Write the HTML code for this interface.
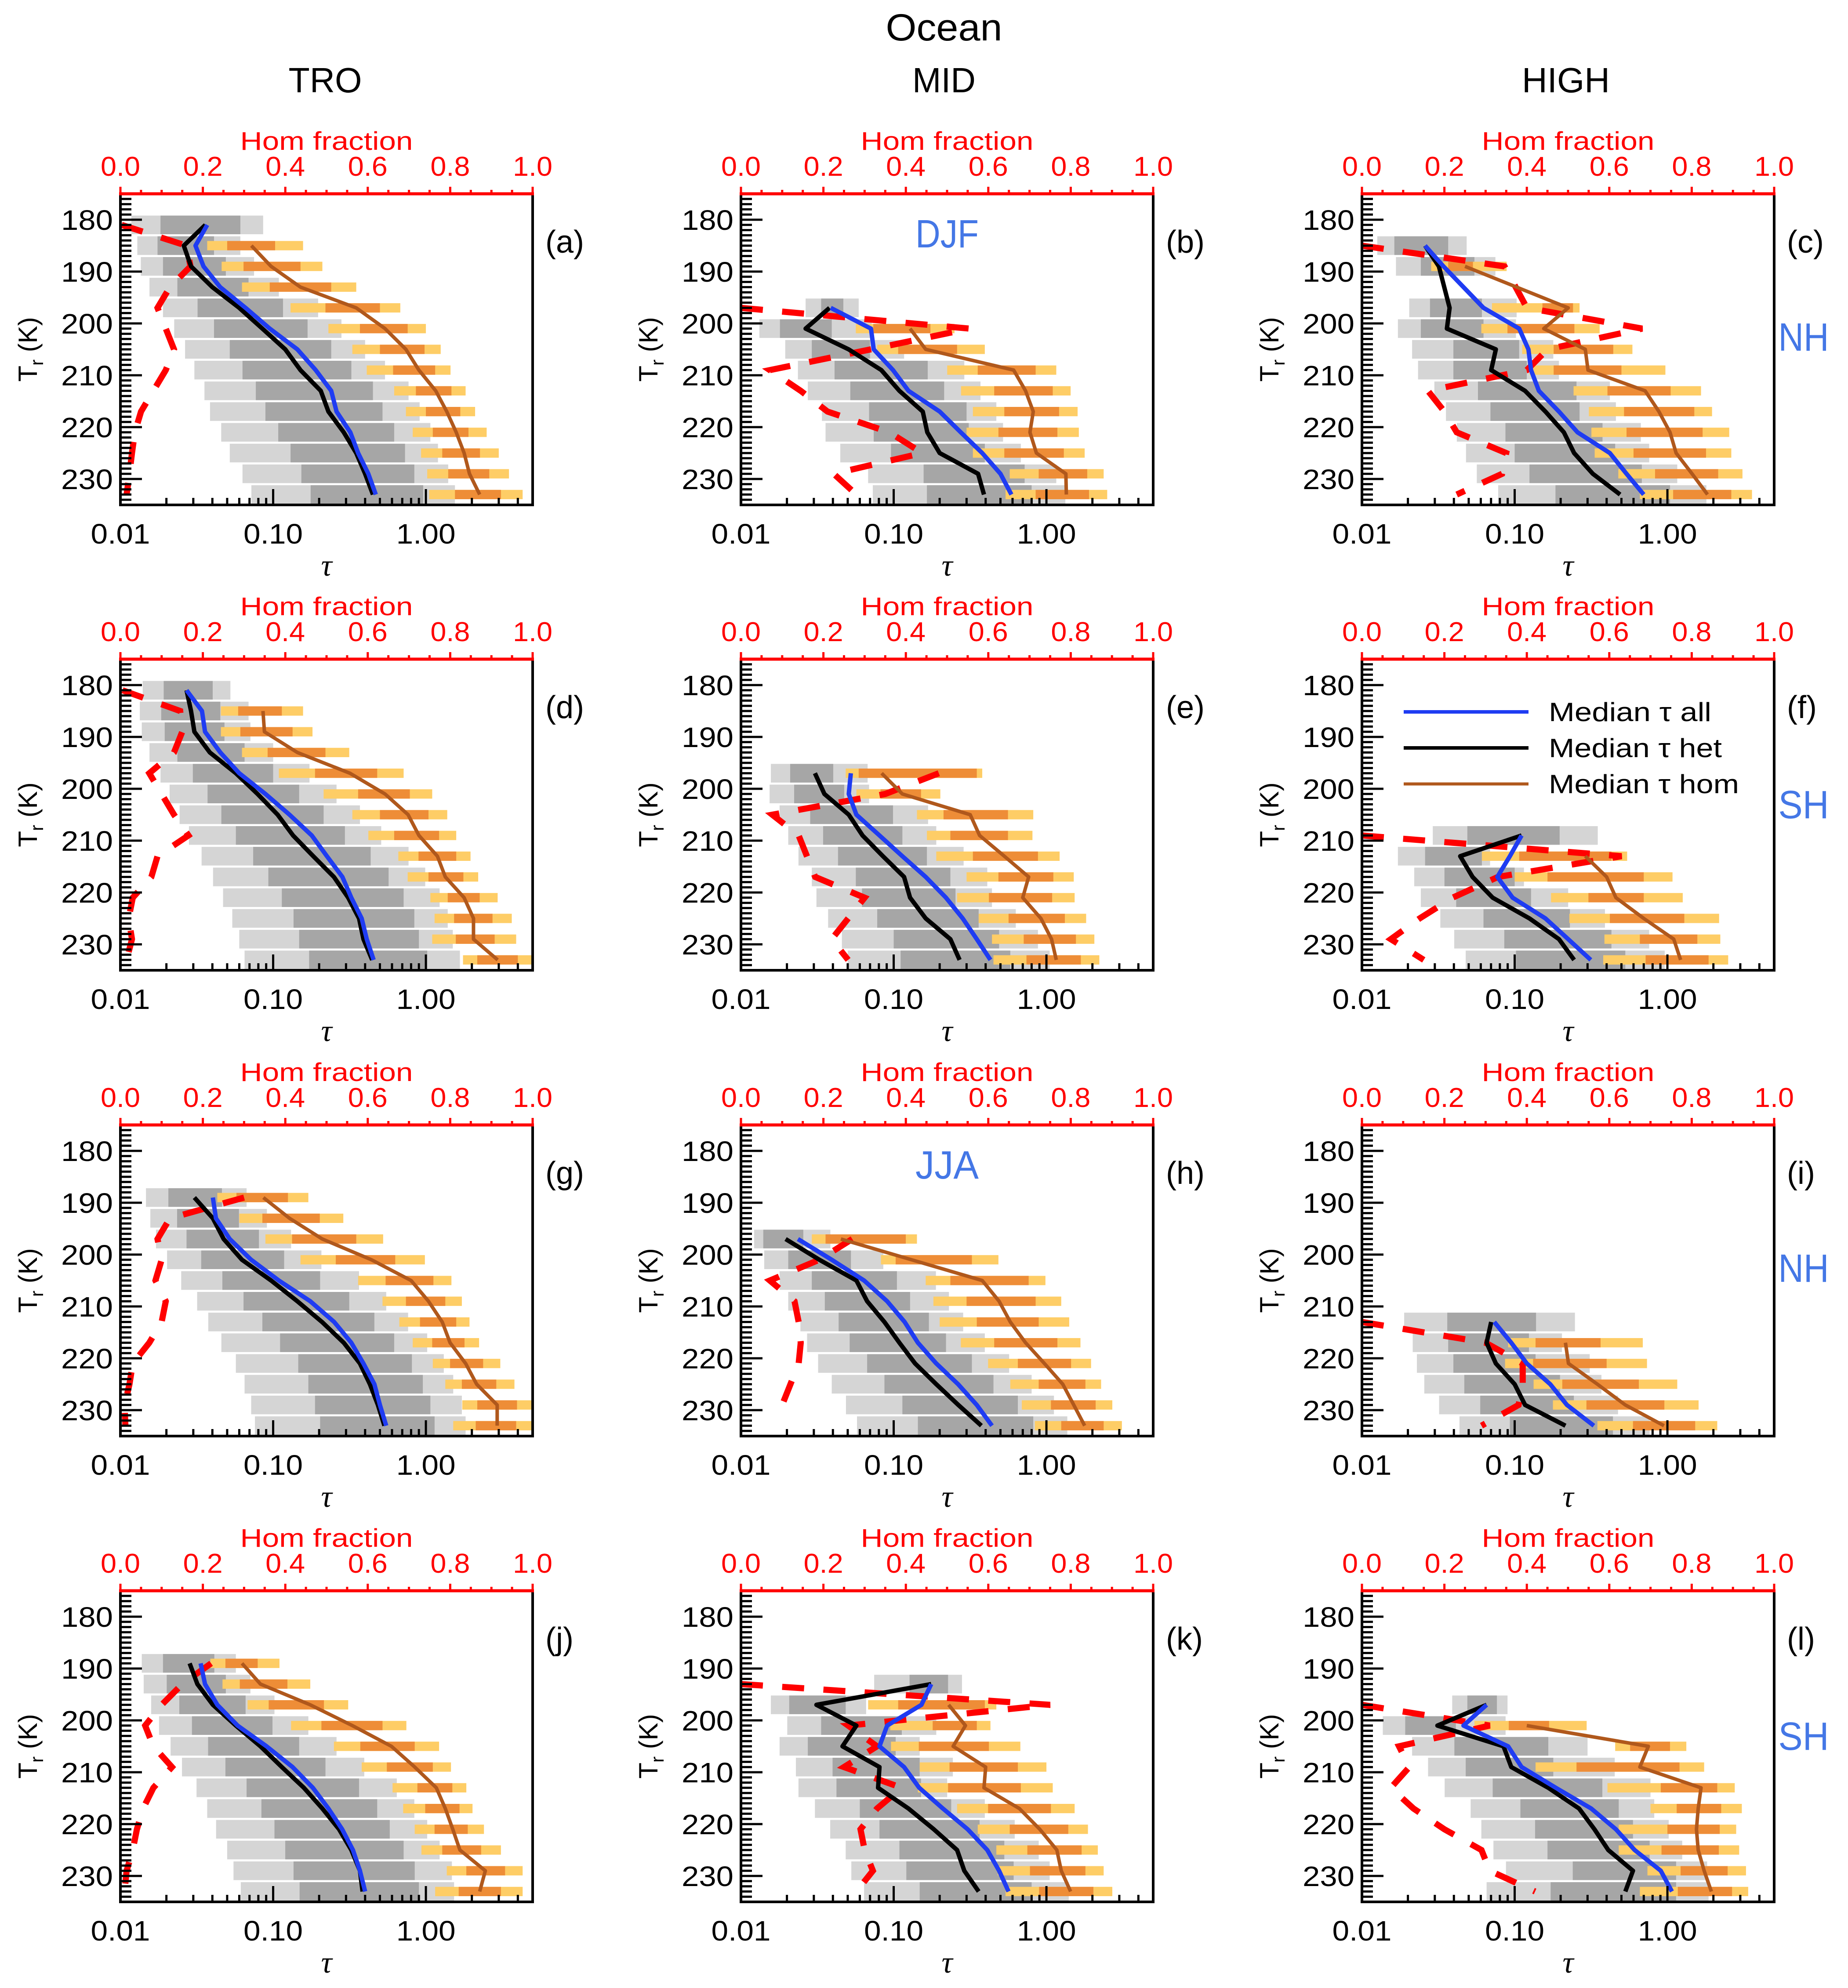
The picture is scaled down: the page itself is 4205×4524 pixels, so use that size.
<!DOCTYPE html>
<html><head><meta charset="utf-8"><style>
html,body{margin:0;padding:0;background:#fff;}
svg{display:block;font-family:"Liberation Sans",sans-serif;}
</style></head><body>
<svg id="fig" xmlns="http://www.w3.org/2000/svg" width="4205" height="4524" viewBox="0 0 4205 4524">
<rect x="0" y="0" width="4205" height="4524" fill="#fff"/>
<text x="2148" y="92" font-size="86" text-anchor="middle" textLength="265" lengthAdjust="spacingAndGlyphs">Ocean</text>
<text x="740" y="210" font-size="80" text-anchor="middle" textLength="167" lengthAdjust="spacingAndGlyphs">TRO</text>
<text x="2148" y="210" font-size="80" text-anchor="middle" textLength="144" lengthAdjust="spacingAndGlyphs">MID</text>
<text x="3563" y="210" font-size="80" text-anchor="middle" textLength="200" lengthAdjust="spacingAndGlyphs">HIGH</text>
</svg>
<script>
// ---------- data (tau values, temperature bins, hom fraction) ----------
const binsA = [181,185,189,193,197,201,205,209,213,217,221,225,229,233];
const grayA = [[.0118,.0183,.061,.086],[.0129,.0175,.041,.061],[.0136,.019,.049,.075],[.0155,.0236,.069,.109],[.019,.032,.116,.197],[.0225,.041,.168,.28],[.0265,.052,.24,.40],[.0305,.063,.325,.54],[.0355,.077,.45,.77],[.0386,.089,.52,.91],[.0457,.108,.62,1.07],[.052,.13,.73,1.2],[.063,.153,.84,1.4],[.072,.176,.96,1.55]];
const orangeA = [null,[.037,.05,.103,.157],[.046,.064,.151,.21],[.0625,.095,.24,.35],[.13,.22,.50,.68],[.23,.37,.76,1.0],[.33,.50,.98,1.25],[.41,.61,1.15,1.45],[.62,.86,1.47,1.82],[.74,1.0,1.68,2.1],[.82,1.11,1.9,2.5],[.93,1.28,2.26,3.0],[1.02,1.4,2.6,3.5],[1.05,1.55,3.1,4.3]];
const allA = [.037,.031,.035,.045,.066,.095,.144,.19,.24,.26,.32,.36,.42,.47];
const hetA = [.036,.026,.029,.040,.060,.085,.12,.151,.205,.23,.29,.35,.40,.45];
const homA = [null,.072,.097,.151,.35,.54,.74,.90,1.16,1.37,1.58,1.78,1.93,2.25];
const fracA = [.003,.16,.17,.12,.09,.11,.13,.11,.08,.05,.035,.028,.022,.015];

const binsB = [197,201,205,209,213,217,221,225,229,233];
const grayB = [[.0265,.0335,.0468,.059],[.0132,.018,.0393,.0718],[.0195,.0291,.070,.117],[.0236,.041,.167,.29],[.0274,.052,.214,.37],[.0339,.069,.30,.47],[.0358,.074,.31,.52],[.0447,.096,.395,.68],[.068,.157,.72,1.16],[.073,.165,.80,1.33]];
const orangeB = [null,[.0565,.0735,.174,.25],[.078,.107,.26,.395],[.224,.355,.85,1.16],[.276,.455,1.10,1.44],[.33,.53,1.21,1.6],[.30,.485,1.18,1.63],[.33,.53,1.3,1.78],[.575,.89,1.85,2.37],[.54,.85,1.9,2.5]];
const allB = [.0387,.071,.074,.099,.125,.20,.275,.38,.50,.59];
const hetB = [.038,.0265,.0507,.083,.109,.155,.166,.20,.357,.39];
const homB = [null,.128,.162,.61,.73,.82,.78,.86,1.34,1.35];
const fracB = [0.0,.555,.315,.07,.145,.21,.36,.44,.225,.28];

const binsC = [185,189,193,197,201,205,209,213,217,221,225,229,233];
const grayC = [[.0126,.0163,.0367,.0485],[.0167,.0243,.0545,.0748],null,[.0204,.0279,.061,.103],[.0172,.0243,.0625,.102],[.0213,.0397,.107,.179],[.0233,.0397,.12,.195],[.0298,.0575,.254,.42],[.0355,.0694,.266,.46],[.0418,.087,.376,.67],[.048,.10,.455,.76],[.0565,.125,.68,1.16],[.078,.185,1.04,1.8]];
const orangeC = [null,[.0284,.0367,.0533,.0886],null,[.071,.152,.241,.266],[.0605,.0897,.246,.36],[.112,.18,.442,.59],[.125,.18,.50,.97],[.243,.405,1.05,1.66],[.306,.52,1.5,1.96],[.318,.54,1.7,2.54],[.334,.60,1.79,2.62],[.477,.83,2.15,3.1],[.66,1.09,2.62,3.58]];
const allC = [.0259,.0342,null,.0625,.107,.123,.128,.144,.195,.258,.42,.54,.70];
const hetC = [.0259,.0319,null,.0375,.036,.0753,.0702,.117,.159,.21,.245,.325,.49];
const homC = [null,.0473,null,.224,.155,.29,.302,.715,.88,1.04,1.14,1.45,1.83];
const fracC = [0,.346,null,.40,.68,.45,.40,.16,.20,.23,.35,.34,.23];

const binsD = [181,185,189,193,197,201,205,209,213,217,221,225,229,233];
const grayD = [[.014,.0192,.0402,.0525],[.0134,.0185,.0451,.069],[.0138,.0195,.048,.071],[.0155,.0236,.065,.10],[.0183,.0298,.10,.173],[.021,.0372,.148,.26],[.0244,.0458,.214,.37],[.0281,.057,.295,.51],[.034,.074,.435,.77],[.0404,.093,.57,.99],[.047,.114,.715,1.23],[.054,.136,.84,1.39],[.06,.148,.90,1.5],[.065,.172,1.02,1.67]];
const orangeD = [null,[.0455,.059,.114,.157],[.0455,.061,.134,.181],[.0625,.092,.22,.315],[.109,.188,.48,.715],[.214,.36,.785,1.10],[.33,.50,1.04,1.38],[.42,.62,1.22,1.58],[.66,.895,1.58,1.96],[.76,1.04,1.76,2.2],[1.07,1.39,2.25,2.95],[1.14,1.53,2.73,3.65],[1.10,1.57,2.82,3.9],[1.75,2.17,4.0,5.0]];
const allD = [.0271,.0342,.0358,.0451,.060,.089,.128,.179,.225,.284,.325,.38,.41,.455];
const hetD = [.0271,.029,.0305,.0385,.057,.079,.107,.135,.183,.25,.31,.365,.39,.445];
const homD = [null,.0858,.0877,.144,.318,.54,.765,.90,1.19,1.34,1.78,2.05,2.05,2.95];
const fracD = [.005,.145,.15,.13,.07,.10,.13,.165,.09,.075,.03,.02,.028,.015];

const binsE = [197,201,205,209,213,217,221,225,229,233];
const grayE = [[.0157,.021,.0402,.0675],[.0154,.0223,.0474,.069],[.0179,.0284,.099,.168],[.0204,.0345,.114,.19],[.0238,.0432,.165,.287],[.0291,.0565,.235,.41],[.0312,.062,.254,.44],[.0372,.078,.36,.63],[.0458,.10,.49,.88],[.050,.111,.58,1.05]];
const orangeE = [[.0485,.059,.35,.38],[.057,.082,.151,.202],[.142,.212,.56,.82],[.165,.235,.56,.81],[.19,.33,.88,1.22],[.30,.485,1.11,1.51],[.26,.42,1.09,1.53],[.36,.565,1.32,1.82],[.44,.71,1.56,2.06],[.45,.74,1.68,2.22]];
const allE = [.0524,.0508,.057,.0807,.114,.162,.22,.283,.35,.43];
const hetE = [.0305,.0352,.0508,.0625,.085,.117,.128,.162,.235,.27];
const homE = [.0834,.114,.317,.365,.53,.765,.70,.92,1.08,1.16];
const fracE = [.48,.35,.076,.14,.16,.18,.30,.26,.22,.26];

const binsF = [209,213,217,221,225,229,233];
const grayF = [[.0291,.049,.197,.35],[.0172,.0259,.061,.069],[.022,.0347,.10,.115],[.0243,.0414,.128,.224],[.0326,.0625,.23,.39],[.0402,.0855,.43,.76],[.0478,.102,.53,.96]];
const orangeF = [null,[.061,.107,.43,.545],[.10,.164,.70,1.08],[.173,.304,.70,1.26],[.228,.42,1.29,2.18],[.387,.66,1.57,2.22],[.38,.72,1.86,2.5]];
const allF = [.111,.093,.077,.097,.159,.224,.315];
const hetF = [.111,.044,.053,.0718,.125,.195,.245];
const homF = [null,.29,.40,.46,.70,1.10,1.22];
const fracF = [0,.63,.33,.22,.14,.07,.15];

const binsG = [189,193,197,201,205,209,213,217,221,225,229,233];
const grayG = [[.0147,.0206,.0462,.067],[.0157,.0235,.0597,.091],[.0171,.0271,.0807,.131],[.0202,.0338,.118,.207],[.025,.0465,.203,.365],[.0318,.064,.315,.55],[.0376,.085,.46,.765],[.0458,.111,.62,1.02],[.057,.146,.81,1.31],[.065,.17,.955,1.51],[.0718,.188,1.07,1.72],[.076,.203,1.14,1.82]];
const orangeG = [[.0431,.0575,.125,.17],[.06,.085,.202,.288],[.089,.133,.35,.525],[.151,.257,.63,.985],[.36,.545,1.12,1.47],[.52,.74,1.34,1.72],[.67,.915,1.58,1.93],[.82,1.10,1.79,2.23],[1.11,1.44,2.37,3.07],[1.34,1.72,2.89,3.8],[1.73,2.17,3.95,5.0],[1.51,2.12,3.9,5.0]];
const allG = [.0403,.0422,.052,.0718,.109,.175,.251,.325,.39,.46,.50,.55];
const hetG = [.0305,.0403,.0474,.0625,.097,.144,.209,.29,.37,.43,.485,.535];
const homG = [.0863,.128,.21,.44,.80,1.04,1.28,1.44,1.82,2.15,2.93,2.93];
const fracG = [.30,.12,.09,.10,.085,.11,.10,.07,.03,.022,.01,.012];

const binsH = [197,201,205,209,213,217,221,225,229,233];
const grayH = [[.0122,.014,.0256,.0385],[.0142,.0204,.0525,.0855],[.0179,.0291,.105,.189],[.0204,.0354,.128,.23],[.0245,.0436,.17,.285],[.0271,.0515,.22,.395],[.032,.067,.325,.57],[.0393,.087,.45,.80],[.0487,.114,.65,1.12],[.0575,.144,.82,1.37]];
const orangeH = [[.0291,.0358,.12,.142],[.0825,.103,.325,.485],[.162,.235,.765,.985],[.182,.30,.85,1.25],[.20,.35,.89,1.41],[.275,.455,1.18,1.67],[.415,.65,1.45,1.96],[.58,.89,1.8,2.28],[.69,1.07,2.1,2.7],[.84,1.25,2.37,3.12]];
const allH = [.0236,.0393,.064,.0906,.118,.144,.19,.264,.35,.44];
const hetH = [.0196,.0326,.057,.067,.087,.109,.138,.19,.265,.375];
const homH = [.0451,.131,.38,.49,.58,.73,.97,1.28,1.51,1.78];
const fracH = [.27,.19,.07,.13,.14,.145,.14,.12,.10,null];

const binsI = [213,217,221,225,229,233];
const grayI = [[.0189,.0362,.138,.248],[.0215,.0367,.124,.204],[.0229,.0397,.137,.31],[.0256,.0468,.198,.37],[.032,.0595,.244,.475],[.0435,.093,.44,.765]];
const orangeI = [null,[.0906,.137,.365,.69],[.0865,.132,.40,.735],[.133,.205,.65,1.16],[.178,.295,.955,1.6],[.348,.595,1.52,2.12]];
const allI = [.0735,.095,.12,.171,.22,.33];
const hetI = [.0702,.0655,.0753,.10,.117,.215];
const homI = [null,.215,.225,.348,.53,.95];
const fracI = [0,.30,.39,.39,.38,.29];

const binsJ = [189,193,197,201,205,209,213,217,221,225,229,233];
const grayJ = [[.0138,.019,.0412,.057],[.0142,.0201,.049,.071],[.0159,.0243,.066,.102],[.0179,.0294,.099,.17],[.0213,.0375,.148,.26],[.0253,.0487,.22,.395],[.0315,.067,.365,.645],[.037,.0838,.48,.84],[.0423,.102,.58,1.02],[.050,.12,.715,1.23],[.055,.136,.845,1.48],[.0614,.149,.90,1.53]];
const orangeJ = [[.0388,.0487,.0792,.11],[.0466,.0605,.124,.175],[.068,.0935,.215,.31],[.131,.207,.52,.745],[.25,.372,.845,1.22],[.38,.555,1.11,1.46],[.605,.88,1.49,1.84],[.71,.99,1.66,2.02],[.845,1.14,1.88,2.4],[.935,1.28,2.3,3.1],[1.37,1.84,3.3,4.3],[1.15,1.64,3.1,4.3]];
const allJ = [.0335,.0358,.0431,.0585,.0906,.134,.182,.23,.283,.333,.37,.40];
const hetJ = [.0284,.0319,.0403,.057,.0826,.114,.159,.21,.27,.325,.37,.385];
const homJ = [.0625,.0826,.175,.33,.595,.845,1.17,1.34,1.5,1.67,2.45,2.25];
const fracJ = [.22,.15,.10,.06,.08,.125,.08,.055,.04,.03,.015,.01];

const binsK = [193,197,201,205,209,213,217,221,225,229,233];
const grayK = [[.0745,.127,.227,.28],[.0157,.0207,.0485,.066],[.0201,.0335,.113,.19],[.0179,.0274,.103,.148],[.0229,.0398,.148,.244],[.0238,.0422,.151,.224],[.0305,.060,.238,.395],[.0384,.0807,.365,.62],[.0485,.109,.53,.89],[.0528,.121,.61,1.05],[.064,.148,.80,1.4]];
const orangeK = [null,[.068,.107,.395,.47],[.095,.18,.35,.43],[.096,.146,.42,.675],[.148,.232,.65,1.0],[.144,.227,.68,1.1],[.26,.415,1.07,1.53],[.355,.575,1.39,1.87],[.47,.75,1.7,2.17],[.48,.78,1.8,2.37],[.54,.895,2.03,2.7]];
const allK = [.176,.152,.0906,.0807,.117,.147,.21,.305,.41,.49,.565];
const hetK = [.176,.0312,.057,.0462,.0807,.079,.125,.183,.26,.29,.36];
const homK = [null,.229,.295,.245,.40,.39,.665,.905,1.17,1.25,1.44];
const fracK = [0,.75,.26,.33,.25,.39,.33,.29,.30,.32,.28];

const binsL = [197,201,205,209,213,217,221,225,229,233];
const grayL = [[.039,.049,.0765,.0898],[.0137,.0192,.0412,.0872],[.0213,.0403,.166,.30],[.0271,.0478,.179,.452],[.0348,.0718,.375,.775],[.0515,.109,.48,.82],[.0605,.136,.595,1.02],[.0726,.164,.765,1.25],[.0877,.24,1.14,1.82],[.0655,.172,1.14,1.86]];
const orangeL = [null,[.0545,.0915,.168,.296],[.455,.57,1.04,1.33],[.137,.254,1.2,1.74],[.405,.905,2.12,2.76],[.775,1.15,2.25,3.07],[.48,1.0,2.2,2.82],[.48,.915,2.17,2.95],[.74,1.22,2.48,3.27],[.66,1.17,2.65,3.38]];
const allL = [.0655,.0462,.0906,.111,.186,.317,.46,.61,.905,1.07];
const hetL = [.0655,.0312,.0845,.095,.166,.264,.333,.41,.595,.53];
const homL = [null,.12,.75,.66,1.66,1.59,1.55,1.59,1.74,1.94];
const fracL = [0,.31,.09,.115,.07,.125,.20,.29,.31,.42];

const yTicks = [180,190,200,210,220,230];
const xTickLabels = ["0.01","0.10","1.00"];
const xTickValues = [0.01,0.1,1];
const fracTicks = [0,0.2,0.4,0.6,0.8,1.0];
const fracTickLabels = ["0.0","0.2","0.4","0.6","0.8","1.0"];

const panels = [
 {id:'a',col:0,row:0,bins:binsA,gray:grayA,orange:orangeA,all:allA,het:hetA,hom:homA,frac:fracA},
 {id:'b',col:1,row:0,bins:binsB,gray:grayB,orange:orangeB,all:allB,het:hetB,hom:homB,frac:fracB},
 {id:'c',col:2,row:0,bins:binsC,gray:grayC,orange:orangeC,all:allC,het:hetC,hom:homC,frac:fracC},
 {id:'d',col:0,row:1,bins:binsD,gray:grayD,orange:orangeD,all:allD,het:hetD,hom:homD,frac:fracD},
 {id:'e',col:1,row:1,bins:binsE,gray:grayE,orange:orangeE,all:allE,het:hetE,hom:homE,frac:fracE},
 {id:'f',col:2,row:1,bins:binsF,gray:grayF,orange:orangeF,all:allF,het:hetF,hom:homF,frac:fracF},
 {id:'g',col:0,row:2,bins:binsG,gray:grayG,orange:orangeG,all:allG,het:hetG,hom:homG,frac:fracG},
 {id:'h',col:1,row:2,bins:binsH,gray:grayH,orange:orangeH,all:allH,het:hetH,hom:homH,frac:fracH},
 {id:'i',col:2,row:2,bins:binsI,gray:grayI,orange:orangeI,all:allI,het:hetI,hom:homI,frac:fracI},
 {id:'j',col:0,row:3,bins:binsJ,gray:grayJ,orange:orangeJ,all:allJ,het:hetJ,hom:homJ,frac:fracJ},
 {id:'k',col:1,row:3,bins:binsK,gray:grayK,orange:orangeK,all:allK,het:hetK,hom:homK,frac:fracK},
 {id:'l',col:2,row:3,bins:binsL,gray:grayL,orange:orangeL,all:allL,het:hetL,hom:homL,frac:fracL}
];

// ---------- layout ----------
const NS = "http://www.w3.org/2000/svg";
const svg = document.getElementById('fig');
const PW = 938, PH = 708;
const LEFTS = [274,1686,3099], TOPS = [441,1500,2560,3620];
const TMIN = 175, TMAX = 235, LOGMIN = -2, LOGMAX = Math.log10(5);

function mk(tag, attrs, parent){
  const el = document.createElementNS(NS, tag);
  for (const k in attrs) el.setAttribute(k, attrs[k]);
  (parent || svg).appendChild(el);
  return el;
}

function drawPanel(p){
  const L = LEFTS[p.col], T = TOPS[p.row];
  const xs = v => L + (Math.log10(v) - LOGMIN) / (LOGMAX - LOGMIN) * PW;
  const ys = t => T + (t - TMIN) / (TMAX - TMIN) * PH;
  const fx = f => L + f * PW;
  const g = mk('g', {});
  
  
  const clipId = 'clip' + p.id;
  const cp = mk('clipPath', {id: clipId}, g);
  mk('rect', {x: L, y: T, width: PW, height: PH}, cp);
  const plot = mk('g', {'clip-path': 'url(#' + clipId + ')'}, g);
  
  

  const gh = 3.6 / 2, oh = 1.8 / 2;
  p.bins.forEach((t, i) => {
    const b = p.gray[i];
    if (b) {
      const r1 = mk('rect', {x: xs(b[0]), y: ys(t - gh), width: xs(b[3]) - xs(b[0]), height: ys(t + gh) - ys(t - gh), fill: '#d5d5d5'}, plot);
      
      
      const r2 = mk('rect', {x: xs(b[1]), y: ys(t - gh), width: xs(b[2]) - xs(b[1]), height: ys(t + gh) - ys(t - gh), fill: '#a6a6a6'}, plot);
      
      
    }
  });
  p.bins.forEach((t, i) => {
    const b = p.orange[i];
    if (b) {
      const r1 = mk('rect', {x: xs(b[0]), y: ys(t - oh), width: xs(b[3]) - xs(b[0]), height: ys(t + oh) - ys(t - oh), fill: '#fecd66'}, plot);
      
      
      const r2 = mk('rect', {x: xs(b[1]), y: ys(t - oh), width: xs(b[2]) - xs(b[1]), height: ys(t + oh) - ys(t - oh), fill: '#ee8d37'}, plot);
      
      
    }
  });
  function pts(arr, fn){
    const o = [];
    p.bins.forEach((t, i) => { if (arr[i] !== null && arr[i] !== undefined) o.push(fn(arr[i]).toFixed(1) + ',' + ys(t).toFixed(1)); });
    return o.join(' ');
  }
  const red = mk('polyline', {points: pts(p.frac, fx), fill: 'none', stroke: '#ff0000', 'stroke-width': 14, 'stroke-dasharray': '50 44'}, plot);
  
  
  const blk = mk('polyline', {points: pts(p.het, xs), fill: 'none', stroke: '#000', 'stroke-width': 10, 'stroke-linejoin': 'round'}, plot);
  
  
  const blu = mk('polyline', {points: pts(p.all, xs), fill: 'none', stroke: '#1f3cf2', 'stroke-width': 10, 'stroke-linejoin': 'round'}, plot);
  
  
  const brn = mk('polyline', {points: pts(p.hom, xs), fill: 'none', stroke: '#b0581c', 'stroke-width': 8, 'stroke-linejoin': 'round'}, plot);
  
  

  // axes
  const ax = mk('path', {d: `M${L},${T} V${T+PH} H${L+PW} V${T}`, fill: 'none', stroke: '#000', 'stroke-width': 6}, g);
  
  
  const top = mk('line', {x1: L - 3, y1: T, x2: L + PW + 3, y2: T, stroke: '#ff0000', 'stroke-width': 7}, g);
  
  
  for (let k = 0; k <= 20; k++) {
    const f = k / 20, major = (k % 4 === 0);
    const tk = mk('line', {x1: fx(f), y1: T, x2: fx(f), y2: T - (major ? 16 : 9), stroke: '#ff0000', 'stroke-width': 5}, g);
    
    
  }
  fracTicks.forEach((f, i) => {
    const tx = mk('text', {x: fx(f), y: T - 41, 'font-size': 62, fill: '#ff0000', 'text-anchor': 'middle', textLength: 90, lengthAdjust: 'spacingAndGlyphs'}, g);
    tx.textContent = fracTickLabels[i];
    
    
  });
  const ht = mk('text', {x: L + PW / 2, y: T - 100, 'font-size': 58, fill: '#ff0000', 'text-anchor': 'middle', textLength: 393, lengthAdjust: 'spacingAndGlyphs'}, g);
  ht.textContent = 'Hom fraction';
  
  

  // left ticks
  for (let t = TMIN + 1; t < TMAX; t++) {
    if (t % 10 === 0) continue;
    const tk = mk('line', {x1: L, y1: ys(t), x2: L + 25, y2: ys(t), stroke: '#000', 'stroke-width': 5}, g);
    
    
  }
  yTicks.forEach(t => {
    const tk = mk('line', {x1: L, y1: ys(t), x2: L + 49, y2: ys(t), stroke: '#000', 'stroke-width': 5}, g);
    
    
    const tx = mk('text', {x: L - 17, y: ys(t) + 23, 'font-size': 64, 'text-anchor': 'end', textLength: 118, lengthAdjust: 'spacingAndGlyphs'}, g);
    tx.textContent = String(t);
    
    
  });
  // bottom ticks
  for (let d = -2; d <= 0; d++) {
    for (let m = 1; m <= 9; m++) {
      const v = m * Math.pow(10, d);
      if (v > 5.0001) continue;
      const major = (m === 1);
      const tk = mk('line', {x1: xs(v), y1: T + PH, x2: xs(v), y2: T + PH - (major ? 36 : 16), stroke: '#000', 'stroke-width': 5}, g);
      
      
    }
  }
  xTickValues.forEach((v, i) => {
    const tx = mk('text', {x: xs(v), y: T + 796, 'font-size': 64, 'text-anchor': 'middle', textLength: 135, lengthAdjust: 'spacingAndGlyphs'}, g);
    tx.textContent = xTickLabels[i];
    
    
  });
  const tau = mk('text', {x: L + PW / 2, y: T + 869, 'font-size': 70, 'font-style': 'italic', 'font-family': '"Liberation Serif", serif', 'text-anchor': 'middle'}, g);
  tau.textContent = 'τ';
  
  
  const yt = mk('text', {x: 0, y: 0, 'font-size': 60, 'text-anchor': 'middle', transform: `translate(${L - 190},${T + PH / 2}) rotate(-90)`}, g);
  yt.innerHTML = 'T<tspan font-size="42" dy="14">r</tspan><tspan dy="-14"> (K)</tspan>';
  
  
  const lab = mk('text', {x: L + 967, y: T + 134, 'font-size': 72}, g);
  lab.textContent = '(' + p.id + ')';
  
  
}
panels.forEach(drawPanel);

function label(txt, x, y, len, name){
  const t = mk('text', {x: x, y: y, 'font-size': 90, fill: '#4477e6', 'text-anchor': 'middle', textLength: len, lengthAdjust: 'spacingAndGlyphs'});
  t.textContent = txt;
  
  
}
label('DJF', 2155, 563, 144, 'season-label-djf');
label('JJA', 2155, 2682, 144, 'season-label-jja');
label('NH', 4104, TOPS[0] + 357, 115, 'hemisphere-label-nh');
label('SH', 4104, TOPS[1] + 362, 115, 'hemisphere-label-sh');
label('NH', 4104, TOPS[2] + 357, 115, 'hemisphere-label-nh');
label('SH', 4104, TOPS[3] + 362, 115, 'hemisphere-label-sh');

// legend in panel f
const LL = LEFTS[2], LT = TOPS[1];
const legItems = [['Median τ all', '#1f3cf2', 8, 370], ['Median τ het', '#000', 8, 394], ['Median τ hom', '#b0581c', 7, 433]];
const legG = mk('g', {});


legItems.forEach((it, i) => {
  const y = LT + 120 + i * 82;
  const ln = mk('line', {x1: LL + 95, y1: y, x2: LL + 379, y2: y, stroke: it[1], 'stroke-width': it[2]}, legG);
  
  
  const tx = mk('text', {x: LL + 425, y: y + 21, 'font-size': 60, textLength: it[3], lengthAdjust: 'spacingAndGlyphs'}, legG);
  tx.textContent = it[0];
  
  
});
</script>
</body></html>
